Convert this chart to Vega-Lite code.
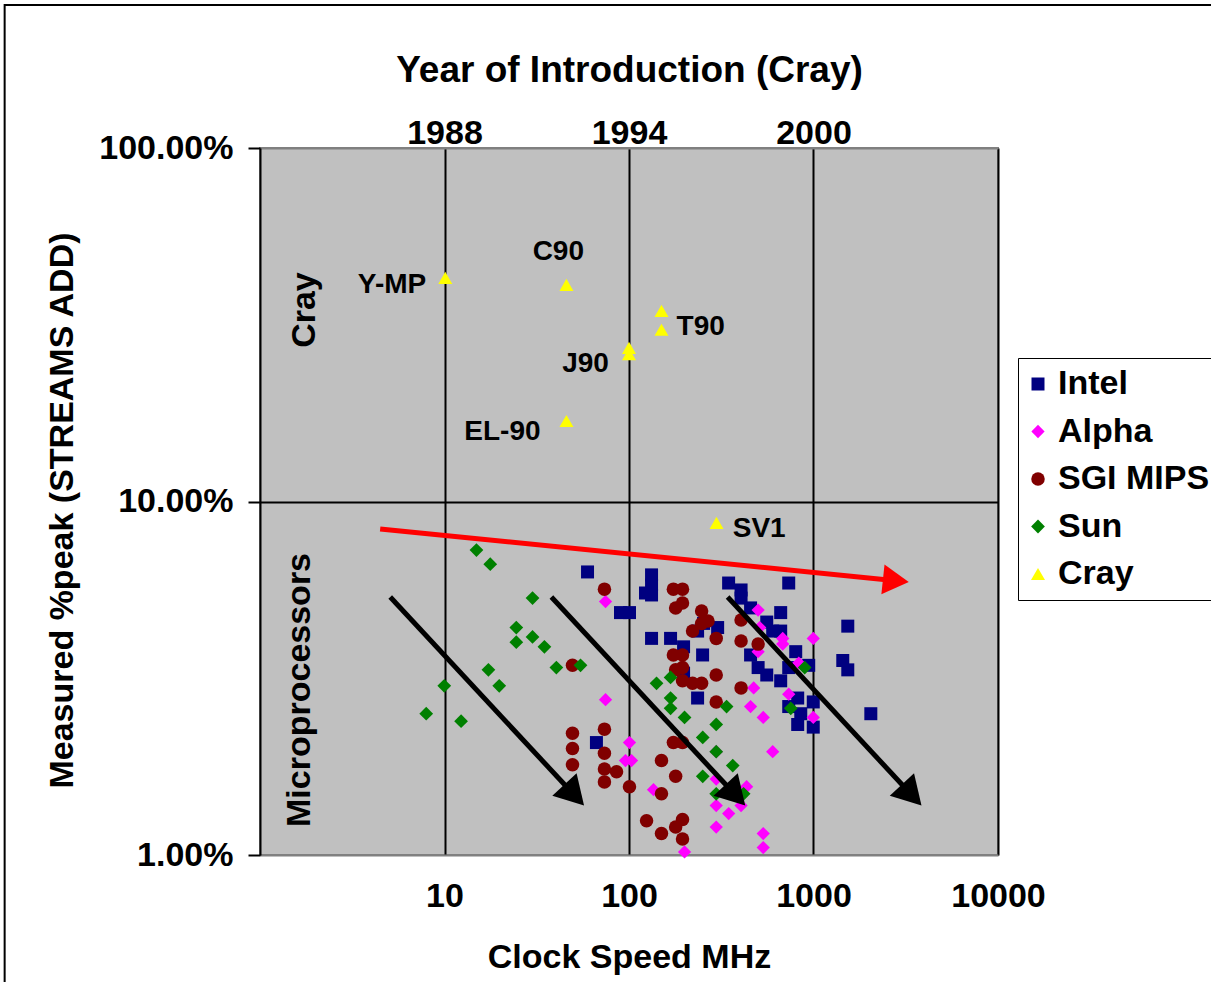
{
  "$schema": "https://vega.github.io/schema/vega-lite/v6.json",
  "width": 738,
  "height": 707,
  "autosize": {"type": "none"},
  "padding": {"left": 260, "top": 148, "right": 213, "bottom": 127},
  "background": "white",
  "config": {
    "font": "Liberation Sans",
    "view": {"fill": "#C0C0C0", "stroke": "#808080", "strokeWidth": 2},
    "axis": {
      "labelFont": "Liberation Sans", "labelFontSize": 34, "labelFontWeight": "bold", "labelColor": "black",
      "titleFont": "Liberation Sans", "titleFontSize": 34, "titleFontWeight": "bold", "titleColor": "black",
      "labelFlush": false, "labelOverlap": false
    },
    "text": {"font": "Liberation Sans", "fontWeight": "bold", "color": "black"}
  },
  "datasets": {
    "pts": [
      {"s":"Intel","mhz":59.6,"pct":6.32},{"s":"Intel","mhz":89.9,"pct":4.85},{"s":"Intel","mhz":100.6,"pct":4.85},
      {"s":"Intel","mhz":66.6,"pct":2.08},{"s":"Intel","mhz":132.5,"pct":6.2},{"s":"Intel","mhz":132.5,"pct":5.8},
      {"s":"Intel","mhz":122.9,"pct":5.51},{"s":"Intel","mhz":132.5,"pct":5.44},{"s":"Intel","mhz":132.5,"pct":4.1},
      {"s":"Intel","mhz":168,"pct":4.1},{"s":"Intel","mhz":197.6,"pct":3.88},{"s":"Intel","mhz":250.6,"pct":3.68},
      {"s":"Intel","mhz":235.4,"pct":4.3},{"s":"Intel","mhz":302.3,"pct":4.4},{"s":"Intel","mhz":197.6,"pct":3.27},
      {"s":"Intel","mhz":235.4,"pct":2.78},{"s":"Intel","mhz":253.7,"pct":4.52},{"s":"Intel","mhz":346.7,"pct":5.88},
      {"s":"Intel","mhz":405,"pct":5.62},{"s":"Intel","mhz":405,"pct":5.33},{"s":"Intel","mhz":456,"pct":5.0},
      {"s":"Intel","mhz":734,"pct":5.88},{"s":"Intel","mhz":664,"pct":4.85},{"s":"Intel","mhz":558,"pct":4.56},
      {"s":"Intel","mhz":601,"pct":4.3},{"s":"Intel","mhz":664,"pct":4.3},{"s":"Intel","mhz":456,"pct":3.68},
      {"s":"Intel","mhz":501,"pct":3.39},{"s":"Intel","mhz":558,"pct":3.23},{"s":"Intel","mhz":664,"pct":3.11},
      {"s":"Intel","mhz":801,"pct":3.76},{"s":"Intel","mhz":734,"pct":3.39},{"s":"Intel","mhz":942,"pct":3.44},
      {"s":"Intel","mhz":1534,"pct":4.44},{"s":"Intel","mhz":1441,"pct":3.55},{"s":"Intel","mhz":1534,"pct":3.34},
      {"s":"Intel","mhz":821,"pct":2.78},{"s":"Intel","mhz":734,"pct":2.63},{"s":"Intel","mhz":997,"pct":2.71},
      {"s":"Intel","mhz":853,"pct":2.51},{"s":"Intel","mhz":821,"pct":2.34},{"s":"Intel","mhz":997,"pct":2.3},
      {"s":"Intel","mhz":2045,"pct":2.51},

      {"s":"Alpha","mhz":74.6,"pct":5.21},{"s":"Alpha","mhz":74.6,"pct":2.75},{"s":"Alpha","mhz":100.6,"pct":2.08},
      {"s":"Alpha","mhz":95.7,"pct":1.85},{"s":"Alpha","mhz":103.2,"pct":1.85},{"s":"Alpha","mhz":135.8,"pct":1.53},
      {"s":"Alpha","mhz":200,"pct":1.02},{"s":"Alpha","mhz":297,"pct":1.96},{"s":"Alpha","mhz":297,"pct":1.38},
      {"s":"Alpha","mhz":347,"pct":1.31},{"s":"Alpha","mhz":405,"pct":1.38},{"s":"Alpha","mhz":297,"pct":1.2},
      {"s":"Alpha","mhz":434,"pct":1.56},{"s":"Alpha","mhz":534,"pct":1.15},{"s":"Alpha","mhz":534,"pct":1.05},
      {"s":"Alpha","mhz":601,"pct":1.96},{"s":"Alpha","mhz":456,"pct":2.63},{"s":"Alpha","mhz":534,"pct":2.45},
      {"s":"Alpha","mhz":474,"pct":2.97},{"s":"Alpha","mhz":734,"pct":2.85},{"s":"Alpha","mhz":501,"pct":4.93},
      {"s":"Alpha","mhz":511,"pct":4.4},{"s":"Alpha","mhz":681,"pct":4.1},{"s":"Alpha","mhz":681,"pct":3.95},
      {"s":"Alpha","mhz":501,"pct":3.76},{"s":"Alpha","mhz":832,"pct":3.49},{"s":"Alpha","mhz":997,"pct":4.1},
      {"s":"Alpha","mhz":997,"pct":2.45},{"s":"Alpha","mhz":297,"pct":1.64},

      {"s":"SGI MIPS","mhz":73.6,"pct":5.65},{"s":"SGI MIPS","mhz":49.4,"pct":3.44},{"s":"SGI MIPS","mhz":49.4,"pct":2.21},
      {"s":"SGI MIPS","mhz":49.4,"pct":2.0},{"s":"SGI MIPS","mhz":49.4,"pct":1.8},{"s":"SGI MIPS","mhz":73.6,"pct":2.27},
      {"s":"SGI MIPS","mhz":73.6,"pct":1.94},{"s":"SGI MIPS","mhz":73.6,"pct":1.75},{"s":"SGI MIPS","mhz":73.6,"pct":1.61},
      {"s":"SGI MIPS","mhz":85.6,"pct":1.72},{"s":"SGI MIPS","mhz":100.6,"pct":1.56},{"s":"SGI MIPS","mhz":150,"pct":1.85},
      {"s":"SGI MIPS","mhz":179,"pct":1.67},{"s":"SGI MIPS","mhz":150,"pct":1.49},{"s":"SGI MIPS","mhz":124.5,"pct":1.25},
      {"s":"SGI MIPS","mhz":179,"pct":1.2},{"s":"SGI MIPS","mhz":195,"pct":1.26},{"s":"SGI MIPS","mhz":150,"pct":1.15},
      {"s":"SGI MIPS","mhz":195,"pct":1.11},{"s":"SGI MIPS","mhz":174,"pct":2.08},{"s":"SGI MIPS","mhz":195,"pct":2.08},
      {"s":"SGI MIPS","mhz":174,"pct":5.65},{"s":"SGI MIPS","mhz":195,"pct":5.65},{"s":"SGI MIPS","mhz":179,"pct":5.0},
      {"s":"SGI MIPS","mhz":195,"pct":5.16},{"s":"SGI MIPS","mhz":247.5,"pct":4.9},{"s":"SGI MIPS","mhz":221,"pct":4.3},
      {"s":"SGI MIPS","mhz":247.5,"pct":4.52},{"s":"SGI MIPS","mhz":268,"pct":4.59},{"s":"SGI MIPS","mhz":297,"pct":4.1},
      {"s":"SGI MIPS","mhz":174,"pct":3.68},{"s":"SGI MIPS","mhz":195,"pct":3.68},{"s":"SGI MIPS","mhz":179,"pct":3.34},
      {"s":"SGI MIPS","mhz":195,"pct":3.39},{"s":"SGI MIPS","mhz":195,"pct":3.11},{"s":"SGI MIPS","mhz":221,"pct":3.06},
      {"s":"SGI MIPS","mhz":247.5,"pct":3.06},{"s":"SGI MIPS","mhz":297,"pct":3.23},{"s":"SGI MIPS","mhz":297,"pct":2.71},
      {"s":"SGI MIPS","mhz":405,"pct":4.62},{"s":"SGI MIPS","mhz":405,"pct":4.03},{"s":"SGI MIPS","mhz":501,"pct":3.95},
      {"s":"SGI MIPS","mhz":405,"pct":2.97},

      {"s":"Sun","mhz":14.9,"pct":7.29},{"s":"Sun","mhz":17.7,"pct":6.65},{"s":"Sun","mhz":30.0,"pct":5.33},
      {"s":"Sun","mhz":24.5,"pct":4.4},{"s":"Sun","mhz":24.5,"pct":4.0},{"s":"Sun","mhz":30.0,"pct":4.14},
      {"s":"Sun","mhz":34.8,"pct":3.88},{"s":"Sun","mhz":40.4,"pct":3.39},{"s":"Sun","mhz":54.6,"pct":3.44},
      {"s":"Sun","mhz":17.3,"pct":3.34},{"s":"Sun","mhz":19.8,"pct":3.01},{"s":"Sun","mhz":9.97,"pct":3.01},
      {"s":"Sun","mhz":7.96,"pct":2.51},{"s":"Sun","mhz":12.3,"pct":2.39},{"s":"Sun","mhz":141,"pct":3.06},
      {"s":"Sun","mhz":168,"pct":3.18},{"s":"Sun","mhz":168,"pct":2.78},{"s":"Sun","mhz":168,"pct":2.6},
      {"s":"Sun","mhz":200,"pct":2.45},{"s":"Sun","mhz":251,"pct":2.15},{"s":"Sun","mhz":297,"pct":2.34},
      {"s":"Sun","mhz":338,"pct":2.63},{"s":"Sun","mhz":297,"pct":1.96},{"s":"Sun","mhz":251,"pct":1.67},
      {"s":"Sun","mhz":365,"pct":1.79},{"s":"Sun","mhz":297,"pct":1.49},{"s":"Sun","mhz":418,"pct":1.49},
      {"s":"Sun","mhz":896,"pct":3.39},{"s":"Sun","mhz":753,"pct":2.6},

      {"s":"Cray","mhz":10.1,"pct":42.9},{"s":"Cray","mhz":45.8,"pct":41.0},{"s":"Cray","mhz":150,"pct":34.6},
      {"s":"Cray","mhz":150,"pct":30.6},{"s":"Cray","mhz":100,"pct":27.2},{"s":"Cray","mhz":100,"pct":26.1},
      {"s":"Cray","mhz":45.8,"pct":16.9},{"s":"Cray","mhz":298,"pct":8.7}
    ]
  },
  "layer": [
    {
      "data": {"values": [{"xa": 0.0413, "xb": 100000000, "ya": 254, "yb": 0.001}]},
      "mark": {"type": "rect", "fill": "transparent", "stroke": "black", "strokeWidth": 2},
      "encoding": {
        "x": {"field": "xa", "type": "quantitative", "scale": {"type": "log", "domain": [1, 10000]}, "axis": null},
        "x2": {"field": "xb"},
        "y": {"field": "ya", "type": "quantitative", "scale": {"type": "log", "domain": [1, 100]}, "axis": null},
        "y2": {"field": "yb"}
      }
    },
    {
      "data": {"name": "pts"},
      "mark": {"type": "point", "filled": true, "opacity": 1, "strokeWidth": 0},
      "encoding": {
        "x": {
          "field": "mhz", "type": "quantitative",
          "scale": {"type": "log", "domain": [1, 10000]},
          "axis": {
            "orient": "bottom", "values": [10, 100, 1000, 10000], "format": "d",
            "grid": true, "gridColor": "black", "gridWidth": 2, "gridOpacity": 1,
            "ticks": false, "tickSize": 0, "domain": false,
            "labelPadding": 24, "title": "Clock Speed MHz", "titlePadding": 27
          }
        },
        "y": {
          "field": "pct", "type": "quantitative",
          "scale": {"type": "log", "domain": [1, 100]},
          "axis": {
            "orient": "left",
            "values": [1, 10, 100],
            "labelExpr": "format(datum.value, '.2f') + '%'",
            "grid": true,
            "gridColor": {"condition": {"test": "datum.value === 10", "value": "black"}, "value": "#808080"},
            "gridWidth": 2, "gridOpacity": 1,
            "ticks": true, "tickSize": 12, "tickWidth": 2, "tickColor": "black",
            "domain": true, "domainColor": "black", "domainWidth": 2,
            "labelPadding": 15, "title": "Measured %peak (STREAMS ADD)", "titlePadding": 19, "titleY": 362
          }
        },
        "color": {
          "field": "s", "type": "nominal",
          "scale": {"domain": ["Intel", "Alpha", "SGI MIPS", "Sun", "Cray"], "range": ["#000080", "#FF00FF", "#800000", "#008000", "#FFFF00"]},
          "legend": {
            "title": null, "orient": "none", "legendX": 758, "legendY": 210,
            "fillColor": "white", "strokeColor": "black", "padding": 9,
            "labelFont": "Liberation Sans", "labelFontSize": 34, "labelFontWeight": "bold", "labelColor": "black",
            "labelLimit": 400, "symbolSize": 100, "symbolStrokeWidth": 0, "rowPadding": 13.5, "labelOffset": 3, "symbolOffset": -6
          }
        },
        "shape": {
          "field": "s", "type": "nominal",
          "scale": {"domain": ["Intel", "Alpha", "SGI MIPS", "Sun", "Cray"], "range": ["square", "diamond", "circle", "diamond", "triangle-up"]}
        },
        "size": {
          "field": "s", "type": "nominal",
          "scale": {"domain": ["Intel", "Alpha", "SGI MIPS", "Sun", "Cray"], "range": [169, 196, 125, 160, 150]},
          "legend": null
        }
      }
    },
    {
      "data": {"values": [{"label": "Y-MP", "mhz": 7.96, "pct": 41.0}]},
      "mark": {"type": "text", "align": "right", "baseline": "middle", "fontSize": 28, "fontWeight": "bold"},
      "encoding": {
        "x": {"field": "mhz", "type": "quantitative", "scale": {"type": "log", "domain": [1, 10000]}, "axis": null},
        "y": {"field": "pct", "type": "quantitative", "scale": {"type": "log", "domain": [1, 100]}, "axis": null},
        "text": {"field": "label"}
      }
    },
    {
      "data": {"values": [
        {"label": "C90", "mhz": 41.4, "pct": 50.8},
        {"label": "J90", "mhz": 58.1, "pct": 24.5},
        {"label": "EL-90", "mhz": 20.6, "pct": 15.7}
      ]},
      "mark": {"type": "text", "align": "center", "baseline": "middle", "fontSize": 28, "fontWeight": "bold"},
      "encoding": {
        "x": {"field": "mhz", "type": "quantitative", "scale": {"type": "log", "domain": [1, 10000]}, "axis": null},
        "y": {"field": "pct", "type": "quantitative", "scale": {"type": "log", "domain": [1, 100]}, "axis": null},
        "text": {"field": "label"}
      }
    },
    {
      "data": {"values": [
        {"label": "T90", "mhz": 181, "pct": 31.2},
        {"label": "SV1", "mhz": 365, "pct": 8.36}
      ]},
      "mark": {"type": "text", "align": "left", "baseline": "middle", "fontSize": 28, "fontWeight": "bold"},
      "encoding": {
        "x": {"field": "mhz", "type": "quantitative", "scale": {"type": "log", "domain": [1, 10000]}, "axis": null},
        "y": {"field": "pct", "type": "quantitative", "scale": {"type": "log", "domain": [1, 100]}, "axis": null},
        "text": {"field": "label"}
      }
    },
    {
      "data": {"values": [
        {"label": "Cray", "mhz": 1.75, "pct": 34.8},
        {"label": "Microprocessors", "mhz": 1.65, "pct": 2.93}
      ]},
      "mark": {"type": "text", "align": "center", "baseline": "middle", "angle": 270, "fontSize": 34, "fontWeight": "bold"},
      "encoding": {
        "x": {
          "field": "mhz", "type": "quantitative", "scale": {"type": "log", "domain": [1, 10000]},
          "axis": {
            "orient": "top", "values": [10, 100, 1000],
            "labelExpr": "datum.value == 10 ? '1988' : datum.value == 100 ? '1994' : '2000'",
            "grid": false, "ticks": false, "tickSize": 0, "domain": false,
            "labelPadding": -2, "title": "Year of Introduction (Cray)", "titleFontSize": 37, "titlePadding": 27
          }
        },
        "y": {"field": "pct", "type": "quantitative", "scale": {"type": "log", "domain": [1, 100]}, "axis": null},
        "text": {"field": "label"}
      }
    },
    {
      "data": {"values": [{"xa": 4.48, "ya": 8.36, "xb": 2795, "yb": 5.97}]},
      "mark": {"type": "rule", "color": "#FF0000", "strokeWidth": 5},
      "encoding": {
        "x": {"field": "xa", "type": "quantitative", "scale": {"type": "log", "domain": [1, 10000]}, "axis": null},
        "x2": {"field": "xb"},
        "y": {"field": "ya", "type": "quantitative", "scale": {"type": "log", "domain": [1, 100]}, "axis": null},
        "y2": {"field": "yb"}
      }
    },
    {
      "data": {"values": [{"xa": 2795, "ya": 5.97}]},
      "mark": {"type": "point", "shape": "triangle-up", "filled": true, "color": "#FF0000", "opacity": 1, "size": 900, "angle": 96, "strokeWidth": 0},
      "encoding": {
        "x": {"field": "xa", "type": "quantitative", "scale": {"type": "log", "domain": [1, 10000]}, "axis": null},
        "y": {"field": "ya", "type": "quantitative", "scale": {"type": "log", "domain": [1, 100]}, "axis": null}
      }
    },
    {
      "data": {"values": [
        {"xa": 5.08, "ya": 5.37, "xb": 50.5, "yb": 1.478},
        {"xa": 37.96, "ya": 5.37, "xb": 377.5, "yb": 1.478},
        {"xa": 342.4, "ya": 5.37, "xb": 3406, "yb": 1.478}
      ]},
      "mark": {"type": "rule", "color": "black", "strokeWidth": 5},
      "encoding": {
        "x": {"field": "xa", "type": "quantitative", "scale": {"type": "log", "domain": [1, 10000]}, "axis": null},
        "x2": {"field": "xb"},
        "y": {"field": "ya", "type": "quantitative", "scale": {"type": "log", "domain": [1, 100]}, "axis": null},
        "y2": {"field": "yb"}
      }
    },
    {
      "data": {"values": [
        {"xa": 50.5, "ya": 1.478},
        {"xa": 377.5, "ya": 1.478},
        {"xa": 3406, "ya": 1.478}
      ]},
      "mark": {"type": "point", "shape": "triangle-up", "filled": true, "color": "black", "opacity": 1, "size": 1100, "angle": 137, "strokeWidth": 0},
      "encoding": {
        "x": {"field": "xa", "type": "quantitative", "scale": {"type": "log", "domain": [1, 10000]}, "axis": null},
        "y": {"field": "ya", "type": "quantitative", "scale": {"type": "log", "domain": [1, 100]}, "axis": null}
      }
    }
  ],
  "resolve": {"axis": {"x": "independent", "y": "independent"}}
}
